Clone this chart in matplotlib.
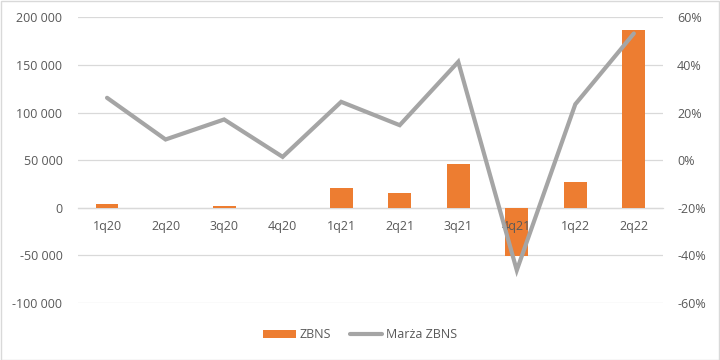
import matplotlib.pyplot as plt
import matplotlib
from matplotlib.patches import Rectangle
from matplotlib.ticker import FuncFormatter

matplotlib.rcParams['font.family'] = ['Open Sans', 'DejaVu Sans']
matplotlib.rcParams['axes.unicode_minus'] = False

quarters = ['1q20', '2q20', '3q20', '4q20', '1q21', '2q21', '3q21', '4q21', '1q22', '2q22']
zbns = [4500, 0, 2400, 0, 20300, 16000, 46500, -51000, 26600, 186700]
marza = [26.2, 8.7, 17.1, 1.4, 24.5, 14.7, 41.3, -46.2, 23.5, 53.2]

txt = '#595959'
grid = '#D9D9D9'

fig = plt.figure(figsize=(7.2, 3.6), dpi=100)
ax = fig.add_axes([0.108, 0.158, 0.813, 0.794])
ax2 = ax.twinx()

x = list(range(len(quarters)))
ax.bar(x, zbns, width=0.39, color='#ED7D31', label='ZBNS', zorder=2)
ax2.plot(x, marza, color='#A5A5A5', linewidth=3, label='Marża ZBNS',
         solid_capstyle='round', solid_joinstyle='miter', zorder=3)

ax.set_xlim(-0.5, len(quarters) - 0.5)
ax.set_ylim(-100000, 200000)
ax.set_yticks(range(-100000, 200001, 50000))
ax.yaxis.set_major_formatter(FuncFormatter(lambda v, p: f"{int(v):,}".replace(',', ' ')))
ax2.set_ylim(-60, 60)
ax2.set_yticks(range(-60, 61, 20))
ax2.yaxis.set_major_formatter(FuncFormatter(lambda v, p: f"{int(v)}%"))

ax.grid(axis='y', color=grid, linewidth=0.9, zorder=0)
ax.set_axisbelow(True)
# category labels sit on top of the bars (4q21 label shows over the bar)
ax.xaxis.set_zorder(3)

for s in ['top', 'left', 'right']:
    ax.spines[s].set_visible(False)
for s in ['top', 'left', 'right', 'bottom']:
    ax2.spines[s].set_visible(False)
ax.spines['bottom'].set_position(('data', 0))
ax.spines['bottom'].set_color(grid)
ax.spines['bottom'].set_linewidth(0.9)
ax.spines['bottom'].set_zorder(1)

ax.set_xticks(x)
ax.set_xticklabels(quarters)
ax.tick_params(axis='x', length=0, pad=9, labelsize=9, labelcolor=txt)
ax.tick_params(axis='y', length=0, pad=11, labelsize=9, labelcolor=txt)
ax2.tick_params(axis='y', length=0, pad=10, labelsize=9, labelcolor=txt)

h1, l1 = ax.get_legend_handles_labels()
h2, l2 = ax2.get_legend_handles_labels()
leg = fig.legend(h1 + h2, l1 + l2, loc='center', bbox_to_anchor=(0.5, 0.07), ncol=2,
                 frameon=False, fontsize=9, handlelength=2.6, columnspacing=1.5,
                 handletextpad=0.3)
for t in leg.get_texts():
    t.set_color(txt)

fig.patches.append(Rectangle((0.001, 0.001), 0.997, 0.996, transform=fig.transFigure,
                             fill=False, edgecolor=grid, linewidth=1))

plt.savefig('out.png', dpi=100)
plt.close()
